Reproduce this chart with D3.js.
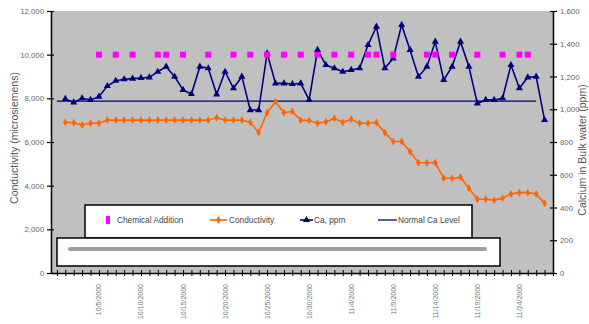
<!DOCTYPE html>
<html><head><meta charset="utf-8">
<script src="https://cdn.jsdelivr.net/npm/d3@7"></script>
<style>html,body{margin:0;padding:0;background:#fff;}svg{display:block;font-family:"Liberation Sans",Arial,sans-serif;}</style>
</head><body><svg id="c" width="589" height="324"></svg>
<script>
// day index 0..58
const dayLabels = ["10/5/2000","10/10/2000","10/15/2000","10/20/2000","10/25/2000","10/30/2000","11/4/2000","11/9/2000","11/14/2000","11/19/2000","11/24/2000"];
const labelDays = [5,10,15,20,25,30,35,40,45,50,55];
const conductivity = [null,6900,6885,6780,6860,6860,7000,7000,7000,7000,7000,7000,7000,7000,7000,7000,7000,7000,7000,7110,7000,7000,7000,6900,6430,7340,7850,7340,7400,7000,6980,6860,6930,7080,6900,7040,6860,6860,6890,6430,6020,6020,5560,5050,5050,5050,4340,4340,4380,3880,3380,3380,3340,3420,3620,3680,3680,3620,3190];
const caPpm = [null,1063,1042,1067,1057,1077,1142,1174,1183,1187,1191,1195,1229,1260,1199,1118,1093,1260,1250,1091,1229,1128,1199,995,995,1342,1158,1158,1154,1158,1057,1362,1270,1250,1229,1240,1250,1392,1504,1250,1311,1515,1362,1199,1260,1413,1179,1260,1413,1260,1036,1057,1057,1067,1270,1128,1195,1199,934];
const normalCa = 1050;
const normalDays = [0,57];
const chemDays = [5,7,9,12,13,15,18,21,23,25,27,29,31,33,35,37,38,40,44,45,47,50,53,55,56];
const chemLevel = 10000;
const leftTicks = [0,2000,4000,6000,8000,10000,12000];
const rightTicks = [0,200,400,600,800,1000,1200,1400,1600];

const svg = d3.select("#c");
const L=51,R=553,T=11,B=273;
const x = d3.scaleLinear().domain([-0.7,59]).range([L,R]);
const yL = d3.scaleLinear().domain([0,12000]).range([B,T]);
const yR = d3.scaleLinear().domain([0,1600]).range([B,T]);

svg.append("rect").attr("x",L).attr("y",T).attr("width",R-L).attr("height",B-T).attr("fill","#c0c0c0");

// axes
const la = svg.append("g").attr("transform",`translate(${L},0)`)
  .call(d3.axisLeft(yL).tickValues(leftTicks).tickFormat(d3.format(",")).tickSizeInner(4).tickSizeOuter(0));
const ra = svg.append("g").attr("transform",`translate(${R},0)`)
  .call(d3.axisRight(yR).tickValues(rightTicks).tickFormat(d3.format(",")).tickSizeInner(4).tickSizeOuter(0));
[la,ra].forEach(g=>{g.select(".domain").attr("stroke","#000").attr("stroke-width",1.5);
  g.selectAll(".tick line").attr("stroke","#000").attr("stroke-width",1.2);
  g.selectAll("text").attr("font-size",7.8).attr("fill","#666");});
la.selectAll(".tick line").attr("x1",3);
ra.selectAll(".tick line").attr("x1",-3);

const days = d3.range(0,60);
const xa = svg.append("g").attr("transform",`translate(0,${B})`)
  .call(d3.axisBottom(x).tickValues(days).tickFormat("").tickSizeInner(3).tickSizeOuter(0));
xa.select(".domain").attr("stroke","#000").attr("stroke-width",1.5);
xa.selectAll(".tick line").attr("stroke","#000").attr("y1",-3);
svg.append("g").selectAll("text").data(labelDays).join("text")
  .attr("transform",(d,i)=>`translate(${x(d)+2.5},${B+11}) rotate(-90)`)
  .attr("text-anchor","end").attr("font-size",7).attr("fill","#777")
  .text((d,i)=>dayLabels[i]);

// axis titles
svg.append("text").attr("transform","translate(18,138) rotate(-90)").attr("text-anchor","middle")
  .attr("font-size",10.5).attr("fill","#555").text("Conductivity (microsiemens)");
svg.append("text").attr("transform","translate(585.5,150) rotate(-90)").attr("text-anchor","middle")
  .attr("font-size",10.5).attr("fill","#555").text("Calcium in Bulk water (ppm)");

// normal Ca level
svg.append("line").attr("x1",x(normalDays[0])).attr("x2",x(normalDays[1]))
  .attr("y1",yR(normalCa)).attr("y2",yR(normalCa)).attr("stroke","#000080").attr("stroke-width",1.3);

// conductivity
const cData = conductivity.map((v,i)=>({d:i,v})).filter(o=>o.v!=null);
svg.append("path").datum(cData).attr("fill","none").attr("stroke","#ff6600").attr("stroke-width",1.6)
  .attr("d",d3.line().x(o=>x(o.d)).y(o=>yL(o.v)));
svg.append("g").selectAll("path").data(cData).join("path")
  .attr("transform",o=>`translate(${x(o.d)},${yL(o.v)})`)
  .attr("d",d3.symbol(d3.symbolDiamond,18)).attr("fill","#ff6600");

// Ca ppm
const aData = caPpm.map((v,i)=>({d:i,v})).filter(o=>o.v!=null);
svg.append("path").datum(aData).attr("fill","none").attr("stroke","#000080").attr("stroke-width",1.6)
  .attr("d",d3.line().x(o=>x(o.d)).y(o=>yR(o.v)));
svg.append("g").selectAll("path").data(aData).join("path")
  .attr("transform",o=>`translate(${x(o.d)},${yR(o.v)})`)
  .attr("d",d3.symbol(d3.symbolTriangle,22)).attr("fill","#000080");

// chemical addition
svg.append("g").selectAll("rect").data(chemDays).join("rect")
  .attr("x",d=>x(d)-3).attr("y",yL(chemLevel)-3).attr("width",6).attr("height",6).attr("fill","#ff00ff");

// legend
svg.append("rect").attr("x",85).attr("y",205).attr("width",387).attr("height",33).attr("fill","#fff").attr("stroke","#000").attr("stroke-width",1.5);
svg.append("rect").attr("x",57).attr("y",238).attr("width",443).attr("height",28).attr("fill","#fff").attr("stroke","#000").attr("stroke-width",1.5);
svg.append("line").attr("x1",70).attr("x2",485).attr("y1",249).attr("y2",249).attr("stroke","#a0a0a0").attr("stroke-width",4).attr("stroke-linecap","round");
const lg = svg.append("g").attr("font-size",8.3).attr("fill","#444");
lg.append("rect").attr("x",106).attr("y",216).attr("width",4).attr("height",8).attr("fill","#ff00ff");
lg.append("text").attr("x",117).attr("y",223).text("Chemical Addition");
lg.append("line").attr("x1",210).attr("x2",227).attr("y1",220).attr("y2",220).attr("stroke","#ff6600").attr("stroke-width",1.6);
lg.append("path").attr("transform","translate(218.5,220)").attr("d",d3.symbol(d3.symbolDiamond,18)).attr("fill","#ff6600");
lg.append("text").attr("x",229).attr("y",223).text("Conductivity");
lg.append("line").attr("x1",300).attr("x2",313).attr("y1",220).attr("y2",220).attr("stroke","#000080").attr("stroke-width",1.6);
lg.append("path").attr("transform","translate(306.5,220)").attr("d",d3.symbol(d3.symbolTriangle,22)).attr("fill","#000080");
lg.append("text").attr("x",314).attr("y",223).text("Ca, ppm");
lg.append("line").attr("x1",378).attr("x2",397).attr("y1",220).attr("y2",220).attr("stroke","#000080").attr("stroke-width",1.3);
lg.append("text").attr("x",398).attr("y",223).text("Normal Ca Level");
</script></body></html>
